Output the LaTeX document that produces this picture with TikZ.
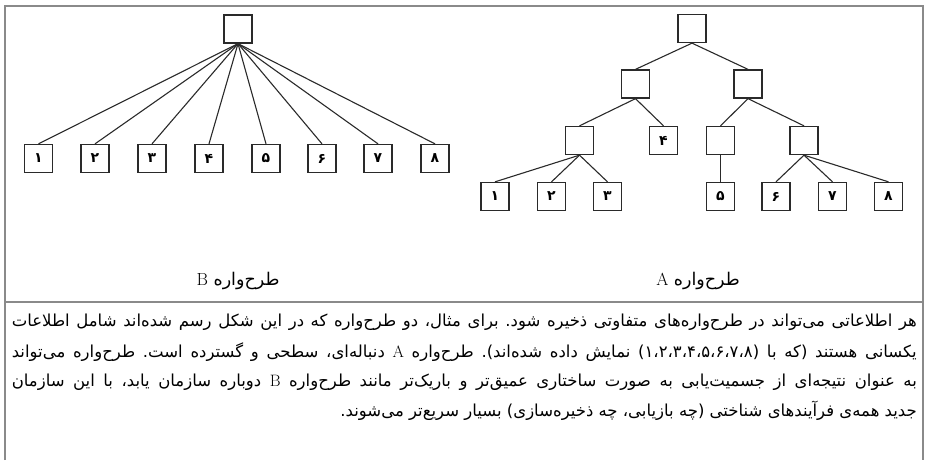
\documentclass[tikz,border=0pt]{standalone}
\usepackage{fontspec}
\newfontfamily\arabicfont[Script=Arabic]{DejaVu Sans}
\TeXXeTstate=1
\frenchspacing
\usetikzlibrary{positioning}
\usepackage{xcolor}
\definecolor{framegray}{HTML}{8A8A8A}
\definecolor{boxdark}{HTML}{2A2A2A}

\begin{document}
\begin{tikzpicture}[x=1pt, y=-1pt,
    box/.style={draw=boxdark, line width=1.3pt, minimum size=28pt, inner sep=0pt,
      font=\arabicfont\bfseries\fontsize{14}{14}\selectfont},
    link/.style={draw=boxdark, line width=1.1pt},
    treelabel/.style={font=\arabicfont\fontsize{17.5}{20}\selectfont},
    bodyline/.style={anchor=east, inner sep=0pt, font=\arabicfont\fontsize{16.5}{20}\selectfont}]
  \useasboundingbox (0,0) rectangle (925,460);
  \draw[framegray, line width=1.6pt] (5,460) -- (5,6) -- (923,6) -- (923,460);
  \draw[framegray, line width=1.6pt] (5,302) -- (923,302);

  % schema B: one level
  \node[box] (broot) at (238,29) {};
  \foreach \i/\d/\x in {1/۱/38.5, 2/۲/95, 3/۳/152, 4/۴/209,
                        5/۵/266, 6/۶/322, 7/۷/378, 8/۸/435} {
    \node[box] (bleaf\i) at (\x,158.5) {\d};
    \draw[link] (broot.south) -- (bleaf\i.north);
  }
  \node[treelabel] (blabel) at (238,281) {\beginR طرح‌واره {\rmfamily B}\endR};

  % schema A: deep tree
  \node[box] (aroot) at (692,28.5) {};
  \node[box] (al) at (635.5,84) {};
  \node[box] (ar) at (748,84) {};
  \node[box] (all) at (579.5,140.5) {};
  \node[box] (a4) at (663.5,140.5) {۴};
  \node[box] (arl) at (720.5,140.5) {};
  \node[box] (arr) at (804,140.5) {};
  \foreach \i/\d/\x in {1/۱/495, 2/۲/551.5, 3/۳/607.5, 5/۵/720.5,
                        6/۶/776, 7/۷/832.5, 8/۸/888.5}
    \node[box] (a\i) at (\x,196.5) {\d};
  \foreach \p/\c in {aroot/al, aroot/ar, al/all, al/a4, ar/arl, ar/arr,
                     all/a1, all/a2, all/a3, arl/a5, arr/a6, arr/a7, arr/a8}
    \draw[link] (\p.south) -- (\c.north);
  \node[treelabel] (alabel) at (698,281) {\beginR طرح‌واره {\rmfamily A}\endR};

  % caption text, one justified line per node
  \node[bodyline] (body1) at (917,322)
    {\hbox to 905pt{\beginR هر اطلاعاتی می‌تواند در طرح‌واره‌های متفاوتی ذخیره شود. برای مثال، دو طرح‌واره که در این شکل رسم شده‌اند شامل اطلاعات\endR}};
  \node[bodyline] (body2) at (917,352)
    {\hbox to 905pt{\beginR یکسانی هستند (که با (۱،۲،۳،۴،۵،۶،۷،۸) نمایش داده شده‌اند). طرح‌واره {\rmfamily A} دنباله‌ای، سطحی و گسترده است. طرح‌واره می‌تواند\endR}};
  \node[bodyline] (body3) at (917,382)
    {\hbox to 905pt{\beginR به عنوان نتیجه‌ای از جسمیت‌یابی به صورت ساختاری عمیق‌تر و باریک‌تر مانند طرح‌واره {\rmfamily B} دوباره سازمان یابد، با این سازمان\endR}};
  \node[bodyline] (body4) at (917,411)
    {\beginR جدید همه‌ی فرآیندهای شناختی (چه بازیابی، چه ذخیره‌سازی) بسیار سریع‌تر می‌شوند.\endR};
\end{tikzpicture}
\end{document}
